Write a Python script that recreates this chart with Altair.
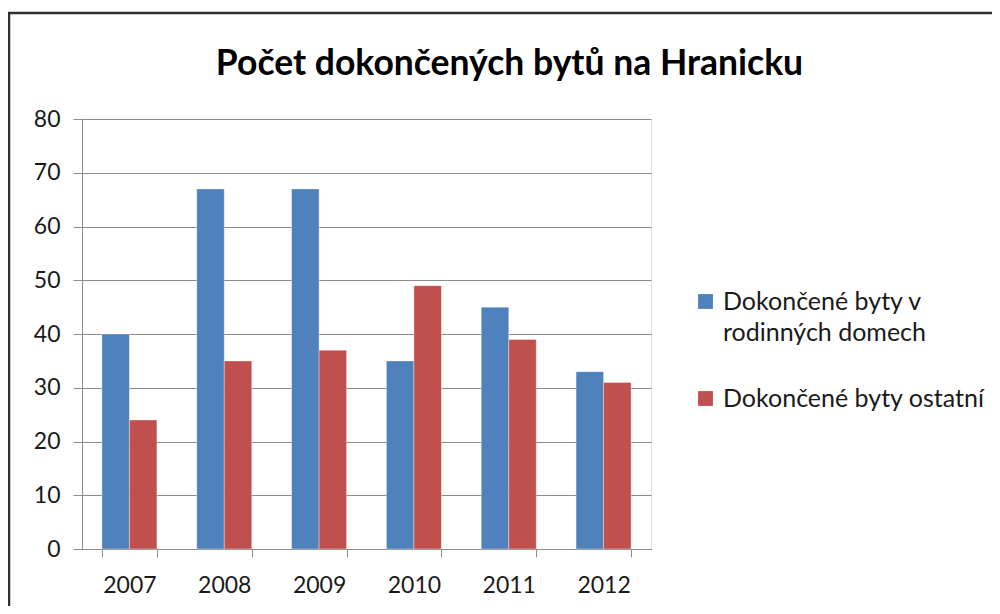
import altair as alt
import pandas as pd

years = ["2007", "2008", "2009", "2010", "2011", "2012"]
rodinne = [40, 67, 67, 35, 45, 33]
ostatni = [24, 35, 37, 49, 39, 31]
series = ["Dokončené byty v rodinných domech", "Dokončené byty ostatní"]
colors = ["#4F81BD", "#C0504D"]
title_text = "Počet dokončených bytů na Hranicku"

rows = []
for i, y in enumerate(years):
    rows.append({"rok": y, "rada": series[0], "hodnota": rodinne[i]})
    rows.append({"rok": y, "rada": series[1], "hodnota": ostatni[i]})
df = pd.DataFrame(rows)

W, H = 569, 430
FONT = "Lato"

bars = alt.Chart(df).mark_bar(stroke="white", strokeWidth=0.6, strokeOpacity=0.6).encode(
    x=alt.X("rok:N", sort=years, title=None,
            scale=alt.Scale(paddingInner=0.42, paddingOuter=0.21),
            axis=alt.Axis(labelAngle=0, tickBand="extent", tickSize=8, labelPadding=17,
                          domainColor="#8c8c8c", tickColor="#8c8c8c", labelFontSize=23,
                          labelFont=FONT, labelColor="#1a1a1a", grid=False)),
    xOffset=alt.XOffset("rada:N", sort=series, scale=alt.Scale(paddingInner=0, paddingOuter=0)),
    y=alt.Y("hodnota:Q", title=None, scale=alt.Scale(domain=[0, 80], nice=False),
            axis=alt.Axis(values=list(range(0, 81, 10)), tickSize=9, labelPadding=13,
                          domainColor="#8c8c8c", tickColor="#8c8c8c", gridColor="#8c8c8c",
                          gridWidth=1.2, labelFontSize=23, labelFont=FONT,
                          labelColor="#1a1a1a")),
    color=alt.Color("rada:N", sort=series, scale=alt.Scale(domain=series, range=colors),
                    legend=alt.Legend(title=None, orient="none", legendX=611, legendY=170,
                                      symbolType="square", symbolSize=220, symbolStrokeWidth=0,
                                      labelFontSize=25, labelFont=FONT, labelColor="#1a1a1a",
                                      labelLimit=400, labelOffset=5, rowPadding=40,
                                      labelExpr="datum.label == 'Dokončené byty v rodinných domech' ? ['Dokončené byty v', 'rodinných domech'] : datum.label")),
)

frame_df = pd.DataFrame({"k": [0]})
frame = alt.Chart(frame_df).mark_rect(fill=None, stroke="#303030", strokeWidth=2.5).encode(
    x=alt.value(-73), x2=alt.value(913), y=alt.value(-106), y2=alt.value(520)
)

chart = alt.layer(frame, bars).properties(
    width=W, height=H,
    title=alt.TitleParams(title_text, font=FONT, fontSize=35.5, fontWeight="bold", color="black",
                          anchor="middle", frame="group", dx=143, offset=-71),
    padding={"left": 74, "top": 111, "right": 341, "bottom": 57},
    autosize=alt.AutoSizeParams(type="none"),
).configure_view(stroke=None).configure(
    background="white", style={"guide-label": {"lineHeight": 31}}
)

chart.save("out.html", embed_options={"renderer": "svg", "actions": False})
